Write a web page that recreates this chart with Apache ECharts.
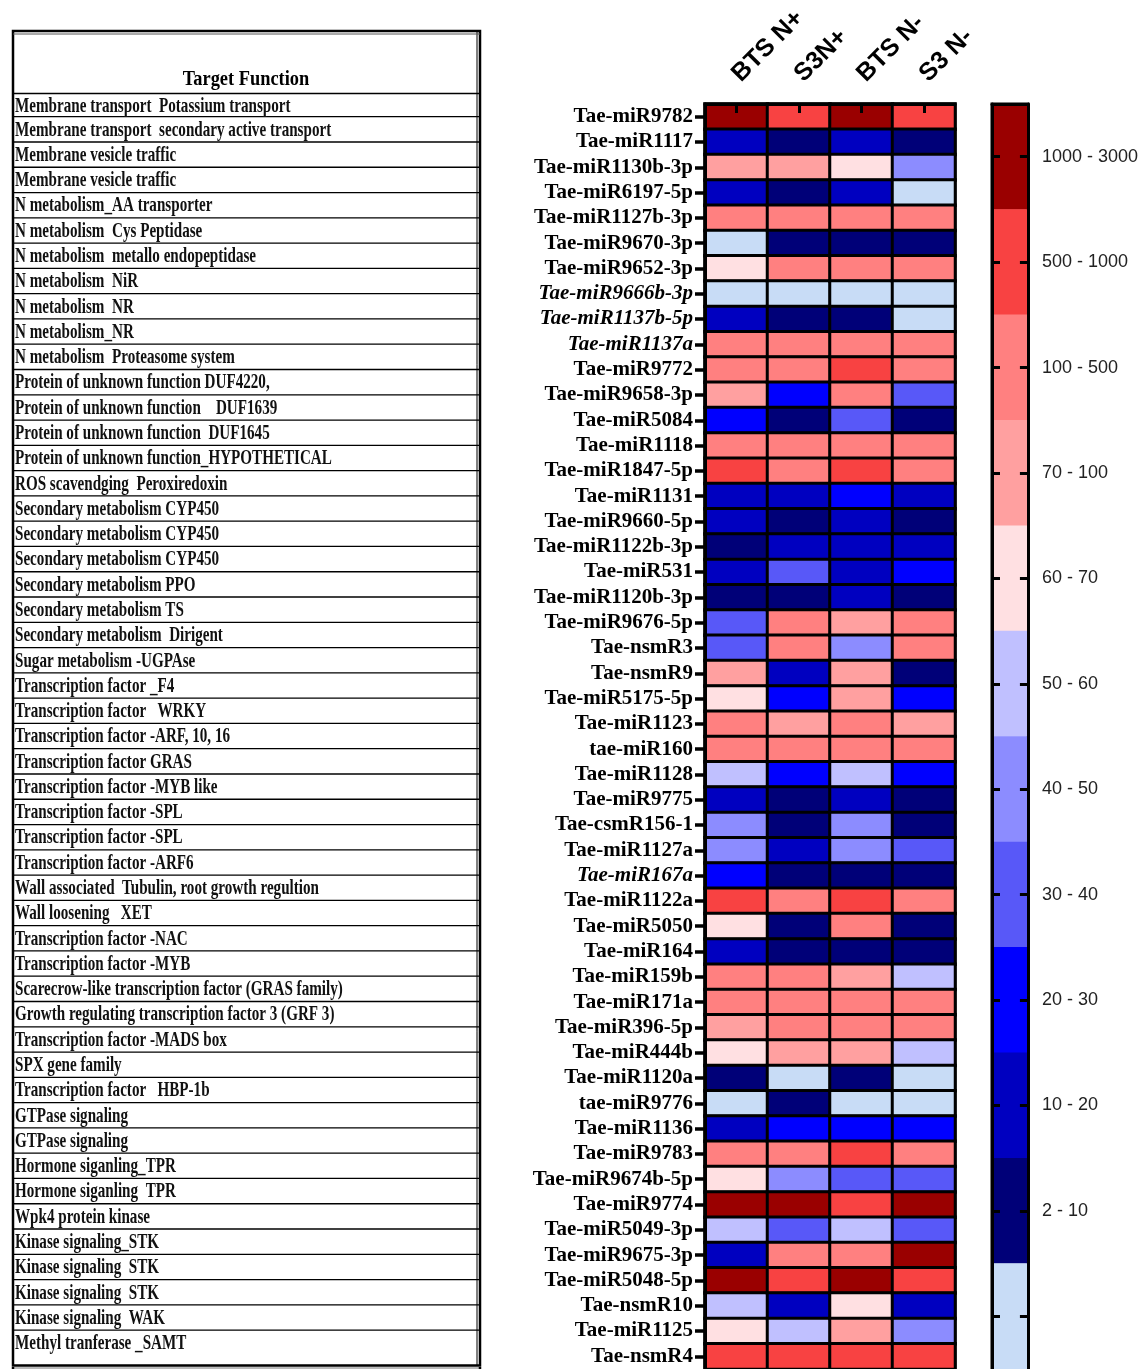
<!DOCTYPE html>
<html>
<head>
<meta charset="utf-8">
<script src="https://cdn.jsdelivr.net/npm/echarts@6/dist/echarts.min.js"></script>
<style>
  html, body { margin: 0; padding: 0; background: #ffffff; }
  #chart { width: 1141px; height: 1369px; }
</style>
</head>
<body>
<div id="chart"></div>
<script>
// Growth conditions (heatmap columns)
const conditions = ['BTS N+', 'S3N+', 'BTS N-', 'S3 N-'];

// miRNAs (heatmap rows, top to bottom)
const mirnas = [
  'Tae-miR9782', 'Tae-miR1117', 'Tae-miR1130b-3p', 'Tae-miR6197-5p', 'Tae-miR1127b-3p',
  'Tae-miR9670-3p', 'Tae-miR9652-3p', 'Tae-miR9666b-3p', 'Tae-miR1137b-5p', 'Tae-miR1137a',
  'Tae-miR9772', 'Tae-miR9658-3p', 'Tae-miR5084', 'Tae-miR1118', 'Tae-miR1847-5p',
  'Tae-miR1131', 'Tae-miR9660-5p', 'Tae-miR1122b-3p', 'Tae-miR531', 'Tae-miR1120b-3p',
  'Tae-miR9676-5p', 'Tae-nsmR3', 'Tae-nsmR9', 'Tae-miR5175-5p', 'Tae-miR1123',
  'tae-miR160', 'Tae-miR1128', 'Tae-miR9775', 'Tae-csmR156-1', 'Tae-miR1127a',
  'Tae-miR167a', 'Tae-miR1122a', 'Tae-miR5050', 'Tae-miR164', 'Tae-miR159b',
  'Tae-miR171a', 'Tae-miR396-5p', 'Tae-miR444b', 'Tae-miR1120a', 'tae-miR9776',
  'Tae-miR1136', 'Tae-miR9783', 'Tae-miR9674b-5p', 'Tae-miR9774', 'Tae-miR5049-3p',
  'Tae-miR9675-3p', 'Tae-miR5048-5p', 'Tae-nsmR10', 'Tae-miR1125', 'Tae-nsmR4'
];

// Names set in italics
const italicMirnas = ['Tae-miR9666b-3p', 'Tae-miR1137b-5p', 'Tae-miR1137a', 'Tae-miR167a'];

// Expression level per condition (same row order as mirnas)
const btsNplus = [1500, 15, 85, 15, 250, 1, 65, 1, 15, 250, 250, 85, 25, 250, 700, 15, 15, 5, 15, 5,
  35, 35, 85, 65, 250, 250, 55, 15, 45, 45, 25, 700, 65, 15, 250, 250, 85, 65, 5, 1,
  15, 250, 65, 1500, 55, 15, 1500, 55, 65, 700];
const s3Nplus = [700, 5, 85, 5, 250, 5, 250, 1, 5, 250, 250, 25, 5, 250, 250, 15, 5, 15, 35, 5,
  250, 250, 15, 25, 85, 250, 25, 5, 5, 15, 5, 250, 5, 5, 250, 250, 250, 85, 1, 5,
  25, 250, 45, 1500, 35, 250, 700, 15, 55, 700];
const btsNminus = [1500, 15, 65, 15, 250, 5, 250, 1, 5, 250, 700, 250, 35, 250, 700, 25, 15, 15, 15, 15,
  85, 45, 85, 85, 250, 250, 55, 15, 45, 45, 5, 700, 250, 5, 85, 250, 250, 85, 5, 1,
  25, 700, 35, 700, 55, 250, 1500, 65, 85, 700];
const s3Nminus = [700, 5, 45, 1, 250, 5, 250, 1, 1, 250, 250, 35, 5, 250, 250, 15, 5, 15, 25, 5,
  250, 250, 5, 25, 85, 250, 25, 5, 5, 35, 5, 250, 5, 5, 55, 250, 250, 55, 1, 1,
  25, 250, 35, 1500, 35, 1500, 700, 15, 45, 700];

// Target function table (left panel)
const targetFunctions = [
  'Membrane transport  Potassium transport',
  'Membrane transport  secondary active transport',
  'Membrane vesicle traffic',
  'Membrane vesicle traffic',
  'N metabolism_AA transporter',
  'N metabolism  Cys Peptidase',
  'N metabolism  metallo endopeptidase',
  'N metabolism  NiR',
  'N metabolism  NR',
  'N metabolism_NR',
  'N metabolism  Proteasome system',
  'Protein of unknown function DUF4220,',
  'Protein of unknown function    DUF1639',
  'Protein of unknown function  DUF1645',
  'Protein of unknown function_HYPOTHETICAL',
  'ROS scavendging  Peroxiredoxin',
  'Secondary metabolism CYP450',
  'Secondary metabolism CYP450',
  'Secondary metabolism CYP450',
  'Secondary metabolism PPO',
  'Secondary metabolism TS',
  'Secondary metabolism  Dirigent',
  'Sugar metabolism -UGPAse',
  'Transcription factor _F4',
  'Transcription factor   WRKY',
  'Transcription factor -ARF, 10, 16',
  'Transcription factor GRAS',
  'Transcription factor -MYB like',
  'Transcription factor -SPL',
  'Transcription factor -SPL',
  'Transcription factor -ARF6',
  'Wall associated  Tubulin, root growth regultion',
  'Wall loosening   XET',
  'Transcription factor -NAC',
  'Transcription factor -MYB',
  'Scarecrow-like transcription factor (GRAS family)',
  'Growth regulating transcription factor 3 (GRF 3)',
  'Transcription factor -MADS box',
  'SPX gene family',
  'Transcription factor   HBP-1b',
  'GTPase signaling',
  'GTPase signaling',
  'Hormone siganling_TPR',
  'Hormone siganling  TPR',
  'Wpk4 protein kinase',
  'Kinase signaling_STK',
  'Kinase signaling  STK',
  'Kinase signaling  STK',
  'Kinase signaling  WAK',
  'Methyl tranferase _SAMT'
];

// Colour bins (top to bottom in the scale bar)
const binLabels = ['1000 - 3000', '500 - 1000', '100 - 500', '70 - 100', '60 - 70', '50 - 60',
  '40 - 50', '30 - 40', '20 - 30', '10 - 20', '2 - 10', ''];
const binMin = [1000, 500, 100, 70, 60, 50, 40, 30, 20, 10, 2, 0];
const binMax = [3000, 1000, 500, 100, 70, 60, 50, 40, 30, 20, 10, 2];
const binColors = ['#9a0000', '#f84242', '#ff8080', '#ffa0a0', '#ffe0e2', '#c0c0ff',
  '#8c8cff', '#5858f8', '#0000ff', '#0000c0', '#000078', '#c8dcf6'];

// ---- build series data ----
const columns = [btsNplus, s3Nplus, btsNminus, s3Nminus];
const cells = [];
columns.forEach((col, j) => col.forEach((v, i) => cells.push([j, i, v])));

const legendCells = binLabels.map((l, i) => ({ value: [0, i, binMin[i]], itemStyle: { color: binColors[i] } }));

const pieces = binMin.map((mn, i) => ({
  gte: mn,
  lt: i === 0 ? binMax[i] + 1 : binMax[i],
  color: binColors[i]
}));

// ---- left table drawn with graphic elements ----
const tableLeft = 13, tableRight = 480, tableTop = 31, headerBottom = 93.5;
const rowPitch = 25.28, firstRowEnd = 116.7, tableBottom = 1365.5;
function rowTop(i) { return i === 0 ? headerBottom : firstRowEnd + (i - 1) * rowPitch; }

const tableEls = [];
tableEls.push({
  type: 'rect', shape: { x: tableLeft, y: tableTop, width: tableRight - tableLeft, height: tableBottom - tableTop },
  style: { fill: '#ffffff', stroke: '#000', lineWidth: 2.5 }, z: 0
});
tableEls.push({
  type: 'line', shape: { x1: 477, y1: tableTop, x2: 477, y2: tableBottom },
  style: { stroke: '#000', lineWidth: 1 }, z: 1
});
tableEls.push({
  type: 'line', shape: { x1: tableLeft, y1: 34, x2: tableRight, y2: 34 },
  style: { stroke: '#555', lineWidth: 1 }, z: 1
});
tableEls.push({
  type: 'line', shape: { x1: tableLeft, y1: tableBottom + 2.5, x2: tableRight, y2: tableBottom + 2.5 },
  style: { stroke: '#777', lineWidth: 1 }, z: 1
});
tableEls.push({
  type: 'line', shape: { x1: tableLeft, y1: 1367, x2: tableLeft, y2: 1369 },
  style: { stroke: '#000', lineWidth: 2.5 }, z: 1
});
tableEls.push({
  type: 'line', shape: { x1: tableRight, y1: 1367, x2: tableRight, y2: 1369 },
  style: { stroke: '#000', lineWidth: 2.5 }, z: 1
});
tableEls.push({
  type: 'text', x: 246, y: 80, scaleX: 0.92, z: 2,
  style: { text: 'Target Function', font: 'bold 20px "Liberation Serif"', fill: '#000', align: 'center', verticalAlign: 'middle' }
});
targetFunctions.forEach((t, i) => {
  const y = rowTop(i);
  tableEls.push({
    type: 'line', shape: { x1: tableLeft, y1: y, x2: tableRight, y2: y },
    style: { stroke: '#000', lineWidth: 1.3 }, z: 1
  });
  tableEls.push({
    type: 'text', x: 15, y: y + 13.5, scaleX: 0.72, z: 2,
    style: { text: t, font: 'bold 21px "Liberation Serif"', fill: '#111', align: 'left', verticalAlign: 'middle' }
  });
});

// ---- chart ----
const chart = echarts.init(document.getElementById('chart'), null, { renderer: 'canvas' });

const axisBlack = { show: true, lineStyle: { color: '#000', width: 3 } };

chart.setOption({
  animation: false,
  backgroundColor: '#ffffff',
  graphic: tableEls,
  grid: [
    { left: 705, top: 104, width: 250, height: 1270, show: true, borderColor: '#000', borderWidth: 3, backgroundColor: 'transparent' },
    { left: 992, top: 104, width: 36, height: 1272, show: true, borderColor: '#000', borderWidth: 3, backgroundColor: 'transparent' }
  ],
  xAxis: [
    {
      gridIndex: 0, type: 'category', position: 'top', data: conditions, z: 5,
      axisLine: axisBlack,
      axisTick: { show: true, inside: true, length: 9, alignWithLabel: true, interval: 0, lineStyle: { color: '#000', width: 3 } },
      axisLabel: { rotate: -45, interval: 0, margin: 26, fontFamily: 'Liberation Sans', fontWeight: 'bold', fontSize: 25, color: '#000' },
      splitLine: { show: false }
    },
    {
      gridIndex: 1, type: 'category', position: 'top', data: ['scale'], z: 5,
      axisLine: axisBlack, axisTick: { show: false }, axisLabel: { show: false }, splitLine: { show: false }
    }
  ],
  yAxis: [
    {
      gridIndex: 0, type: 'category', inverse: true, data: mirnas, z: 5,
      axisLine: axisBlack,
      axisTick: { show: true, length: 10, alignWithLabel: true, interval: 0, lineStyle: { color: '#000', width: 3.5 } },
      axisLabel: {
        interval: 0, margin: 12, fontFamily: 'Liberation Serif', fontWeight: 'bold', fontSize: 21, color: '#000',
        formatter: v => italicMirnas.includes(v) ? '{i|' + v + '}' : v,
        rich: { i: { fontFamily: 'Liberation Serif', fontWeight: 'bold', fontStyle: 'italic', fontSize: 21, color: '#000' } }
      },
      splitLine: { show: false }
    },
    {
      gridIndex: 1, type: 'category', inverse: true, position: 'left', data: binLabels, z: 5,
      axisLine: axisBlack,
      axisTick: { show: true, inside: true, length: 8, alignWithLabel: true, interval: 0, lineStyle: { color: '#000', width: 3 } },
      axisLabel: { show: false }, splitLine: { show: false }
    },
    {
      gridIndex: 1, type: 'category', inverse: true, position: 'right', data: binLabels, z: 5,
      axisLine: axisBlack,
      axisTick: { show: true, inside: true, length: 8, alignWithLabel: true, interval: 0, lineStyle: { color: '#000', width: 3 } },
      axisLabel: { interval: 0, margin: 14, fontFamily: 'Liberation Sans', fontSize: 18, color: '#222' },
      splitLine: { show: false }
    }
  ],
  visualMap: {
    type: 'piecewise', show: false, seriesIndex: 0, dimension: 2, pieces: pieces
  },
  series: [
    {
      type: 'heatmap', xAxisIndex: 0, yAxisIndex: 0, data: cells,
      itemStyle: { borderColor: '#000', borderWidth: 3 },
      emphasis: { disabled: true }
    },
    {
      type: 'heatmap', xAxisIndex: 1, yAxisIndex: 1, data: legendCells,
      itemStyle: { borderWidth: 0 },
      emphasis: { disabled: true }
    }
  ]
});
</script>
</body>
</html>
